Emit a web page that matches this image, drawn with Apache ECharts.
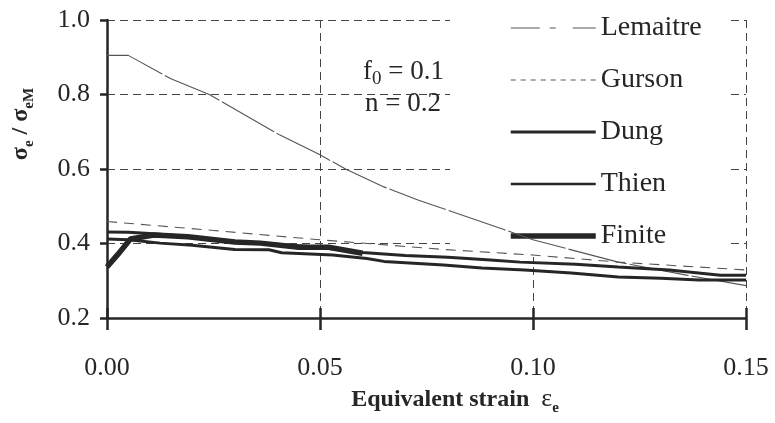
<!DOCTYPE html>
<html>
<head>
<meta charset="utf-8">
<script src="https://cdn.jsdelivr.net/npm/echarts@6/dist/echarts.min.js"></script>
<style>
html,body{margin:0;padding:0;background:#fff;}
#chart{width:775px;height:423px;}
</style>
</head>
<body>
<div id="chart"></div>
<script>
// ---- data (strain, sigma_e / sigma_eM) ----
const xTicks = [0, 0.05, 0.10, 0.15];
const yTicks = [0.2, 0.4, 0.6, 0.8, 1.0];
const seriesNames = ['Lemaitre', 'Gurson', 'Dung', 'Thien', 'Finite'];
const lemaitre = [[0,0.905],[0.005,0.905],[0.015,0.842],[0.024,0.80],[0.0406,0.691],[0.05,0.638],[0.056,0.60],[0.065,0.552],[0.073,0.517],[0.093,0.438],[0.10,0.41],[0.12,0.35],[0.136,0.315],[0.15,0.287]];
const gurson = [[0,0.459],[0.025,0.435],[0.05,0.41],[0.079,0.384],[0.10,0.369],[0.12,0.35],[0.15,0.329]];
const dung = [[0,0.431],[0.005,0.43],[0.01,0.427],[0.02,0.418],[0.03,0.406],[0.04,0.398],[0.05,0.39],[0.06,0.376],[0.07,0.368],[0.08,0.363],[0.09,0.356],[0.097,0.35],[0.11,0.344],[0.12,0.337],[0.132,0.329],[0.144,0.315],[0.15,0.315]];
const thien = [[0,0.412],[0.005,0.41],[0.0125,0.401],[0.02,0.395],[0.03,0.384],[0.038,0.383],[0.041,0.375],[0.053,0.369],[0.061,0.36],[0.065,0.352],[0.079,0.342],[0.088,0.334],[0.098,0.329],[0.109,0.321],[0.12,0.31],[0.13,0.307],[0.139,0.302],[0.15,0.302]];
const finite = [[0,0.337],[0.0025,0.37],[0.0055,0.412],[0.011,0.423],[0.019,0.418],[0.03,0.404],[0.036,0.401],[0.045,0.39],[0.052,0.39],[0.06,0.374]];

const SERIF = "'Liberation Serif','DejaVu Serif',serif";
const INK = '#262626';
const THIN = '#555';

const chart = echarts.init(document.getElementById('chart'), null, {renderer: 'canvas'});

function lineSeries(name, data, width, type, color) {
  return {
    name: name, type: 'line', data: data, xAxisIndex: 0, yAxisIndex: 0,
    showSymbol: false, symbol: 'none', smooth: false, z: 6, silent: true,
    lineStyle: {color: color, width: width, type: type},
    itemStyle: {color: color},
    emphasis: {disabled: true}
  };
}

const option = {
  animation: false,
  backgroundColor: '#fff',
  grid: {left: 107, right: 29, top: 20, bottom: 105, containLabel: false},
  xAxis: [{
    type: 'value', min: xTicks[0], max: xTicks[xTicks.length - 1], interval: 0.05,
    axisLine: {show: true, onZero: false, lineStyle: {color: INK, width: 2.5}},
    axisTick: {show: true, inside: false, length: 12, lineStyle: {color: INK, width: 2.5}},
    axisLabel: {margin: 37, fontFamily: SERIF, fontSize: 26, color: INK,
      formatter: v => v.toFixed(2)},
    splitLine: {show: true, lineStyle: {color: '#444', width: 1, type: [8, 5]}}
  }, {
    type: 'value', min: xTicks[0], max: xTicks[xTicks.length - 1], interval: 0.05,
    position: 'bottom',
    axisLine: {show: false},
    axisTick: {show: true, inside: true, length: 10, lineStyle: {color: INK, width: 2.5}},
    axisLabel: {show: false},
    splitLine: {show: false}
  }],
  yAxis: {
    type: 'value', min: yTicks[0], max: yTicks[yTicks.length - 1], interval: 0.2,
    axisLine: {show: true, onZero: false, lineStyle: {color: INK, width: 2.5}},
    axisTick: {show: true, inside: false, length: 7, lineStyle: {color: INK, width: 2.5}},
    axisLabel: {margin: 17, fontFamily: SERIF, fontSize: 26, color: INK,
      formatter: v => v.toFixed(1)},
    splitLine: {show: true, lineStyle: {color: '#444', width: 1, type: [8, 5]}}
  },
  legend: {
    show: true, orient: 'vertical', left: 450, top: 0, z: 4,
    backgroundColor: '#fff',
    padding: [14, 28, 7, 58],
    itemWidth: 85, itemHeight: 14, itemGap: 24,
    selectedMode: false,
    itemStyle: {opacity: 0, borderWidth: 0},
    textStyle: {fontFamily: SERIF, fontSize: 28, color: INK, lineHeight: 26},
    data: [
      {name: 'Lemaitre', lineStyle: {type: [29, 10, 6, 17], width: 1, color: THIN}},
      {name: 'Gurson', lineStyle: {type: [5, 5], width: 1, color: THIN}},
      {name: 'Dung', lineStyle: {type: 'solid', width: 3.2, color: INK}},
      {name: 'Thien', lineStyle: {type: 'solid', width: 2.6, color: INK}},
      {name: 'Finite', lineStyle: {type: 'solid', width: 5.5, color: INK}}
    ]
  },
  series: [
    lineSeries(seriesNames[0], lemaitre, 1.1, [60, 3], THIN),
    lineSeries(seriesNames[1], gurson, 1.1, [10, 7], THIN),
    lineSeries(seriesNames[2], dung, 3, 'solid', INK),
    lineSeries(seriesNames[3], thien, 3, 'solid', INK),
    lineSeries(seriesNames[4], finite, 5.5, 'solid', INK)
  ],
  graphic: [
    {
      type: 'text', left: 363, top: 58, z: 10, silent: true,
      style: {
        text: '{t|f}{s|0}{t| = 0.1}', fill: INK,
        rich: {
          t: {fontFamily: SERIF, fontSize: 27, fill: INK, lineHeight: 30, verticalAlign: 'bottom'},
          s: {fontFamily: SERIF, fontSize: 19, fill: INK, lineHeight: 30, verticalAlign: 'bottom', padding: [0, 0, -4, 0]}
        }
      }
    },
    {
      type: 'text', left: 365, top: 90, z: 10, silent: true,
      style: {text: 'n = 0.2', font: '27px ' + SERIF, fill: INK}
    },
    {
      type: 'text', x: 455, y: 398, z: 10, silent: true,
      style: {
        text: '{b|Equivalent strain  }{g|ε}{s|e}', fill: INK,
        align: 'center', verticalAlign: 'middle',
        rich: {
          b: {fontFamily: SERIF, fontWeight: 'bold', fontSize: 24, fill: INK, lineHeight: 28, verticalAlign: 'bottom'},
          g: {fontFamily: SERIF, fontSize: 26, fill: INK, lineHeight: 28, verticalAlign: 'bottom'},
          s: {fontFamily: SERIF, fontWeight: 'bold', fontSize: 15, fill: INK, lineHeight: 28, verticalAlign: 'bottom', padding: [0, 0, -4, 0]}
        }
      }
    },
    {
      type: 'text', x: 20, y: 124, rotation: Math.PI / 2, z: 10, silent: true,
      style: {
        text: '{m|σ}{s|e}{m| / σ}{s|eM}', fill: INK,
        align: 'center', verticalAlign: 'middle',
        rich: {
          m: {fontFamily: SERIF, fontWeight: 'bold', fontSize: 24, fill: INK, lineHeight: 26, verticalAlign: 'bottom'},
          s: {fontFamily: SERIF, fontWeight: 'bold', fontSize: 15, fill: INK, lineHeight: 26, verticalAlign: 'bottom', padding: [0, 0, -4, 0]}
        }
      }
    }
  ]
};
chart.setOption(option);
</script>
</body>
</html>
